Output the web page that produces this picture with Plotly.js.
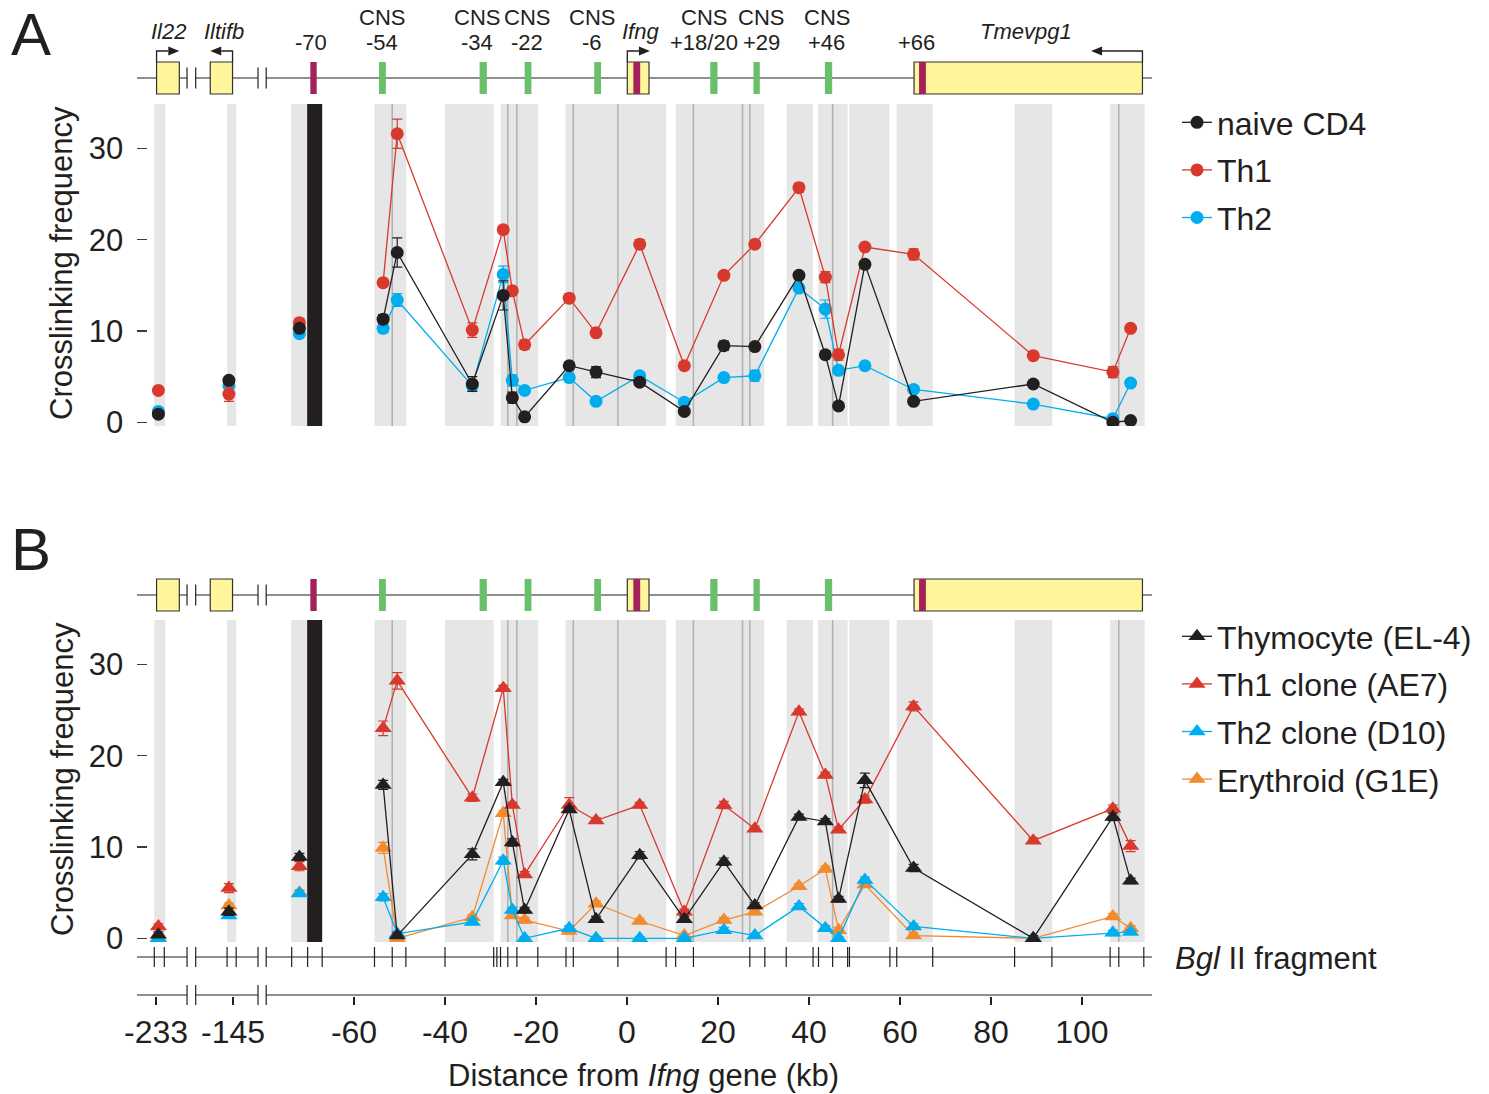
<!DOCTYPE html>
<html>
<head>
<meta charset="utf-8">
<script src="https://cdn.plot.ly/plotly-3.0.1.min.js"></script>
<style>html,body{margin:0;padding:0;background:#fff;}#chart{width:1489px;height:1094px;}</style>
</head>
<body>
<div id="chart"></div>
<script>
// ---------------- DATA ----------------
// Bgl II fragment centres (kb from Ifng); the first two lie beyond the axis breaks
const fragKb = [-232.5, -145.9, -72.0, -53.6, -50.5, -34.0, -27.2, -25.2, -22.5, -12.7, -6.8,
  2.8, 12.6, 21.3, 28.1, 37.8, 43.6, 46.5, 52.3, 63.0, 89.3, 106.8, 110.7];
const isolatedCount = 3; // first fragments are not joined by lines

// Panel A
const naiveCD4 = [0.9, 4.6, 10.3, 11.3, 18.6, 4.2, 13.9, 2.7, 0.6, 6.2, 5.5, 4.4, 1.2, 8.4, 8.3, 16.1, 7.4, 1.8, 17.3, 2.3, 4.2, 0.0, 0.2];
const naiveCD4Err = [0.3, 0.4, 0.3, 0.5, 1.6, 0.8, 1.6, 0.6, 0.2, 0.3, 0.6, 0.3, 0.3, 0.5, 0.3, 0.3, 0.4, 0.3, 0.4, 0.3, 0.3, 0.2, 0.2];
const th1 = [3.5, 3.1, 10.9, 15.3, 31.6, 10.1, 21.1, 14.4, 8.5, 13.6, 9.8, 19.5, 6.2, 16.1, 19.5, 25.7, 15.9, 7.4, 19.2, 18.4, 7.3, 5.5, 10.3];
const th1Err = [0.3, 0.8, 0.5, 0.3, 1.6, 0.8, 0.4, 0.3, 0.5, 0.5, 0.3, 0.5, 0.3, 0.3, 0.3, 0.5, 0.6, 0.6, 0.3, 0.6, 0.3, 0.6, 0.3];
const th2 = [1.2, 4.0, 9.7, 10.3, 13.4, 4.0, 16.2, 4.6, 3.5, 4.9, 2.3, 5.1, 2.2, 4.9, 5.1, 14.7, 12.4, 5.7, 6.2, 3.6, 2.0, 0.4, 4.3];
const th2Err = [0.4, 0.3, 0.3, 0.5, 0.7, 0.5, 0.9, 0.6, 0.3, 0.3, 0.3, 0.3, 0.3, 0.3, 0.6, 0.3, 1.0, 0.3, 0.3, 0.3, 0.3, 0.3, 0.3];

// Panel B
const el4 = [0.4, 2.9, 8.9, 16.8, 0.3, 9.2, 17.1, 10.5, 3.1, 14.1, 2.1, 9.1, 2.1, 8.4, 3.6, 13.3, 12.8, 4.3, 17.3, 7.7, 0.0, 13.3, 6.3];
const el4Err = [0.3, 0.4, 0.4, 0.5, 0.3, 0.6, 0.3, 0.4, 0.3, 0.3, 0.3, 0.4, 0.3, 0.4, 0.3, 0.3, 0.3, 0.3, 0.8, 0.4, 0.3, 0.4, 0.3];
const ae7 = [1.3, 5.5, 7.9, 23.0, 28.2, 15.4, 27.4, 14.6, 7.0, 14.6, 12.9, 14.6, 2.9, 14.6, 12.0, 24.8, 17.9, 11.9, 15.2, 25.4, 10.7, 14.2, 10.1];
const ae7Err = [0.3, 0.5, 0.5, 0.8, 0.9, 0.4, 0.3, 0.3, 0.3, 0.8, 0.3, 0.3, 0.3, 0.4, 0.3, 0.3, 0.3, 0.3, 0.4, 0.5, 0.3, 0.4, 0.6];
const d10 = [0.0, 2.5, 4.9, 4.5, 0.5, 1.8, 8.5, 3.1, 0.0, 1.1, 0.0, 0.0, 0.0, 0.9, 0.3, 3.5, 1.1, 0.0, 6.4, 1.3, 0.0, 0.6, 0.7];
const d10Err = [0.2, 0.3, 0.3, 0.4, 0.3, 0.3, 0.4, 0.3, 0.2, 0.3, 0.2, 0.2, 0.2, 0.3, 0.2, 0.3, 0.3, 0.2, 0.3, 0.3, 0.2, 0.3, 0.2];
const g1e = [0.1, 3.6, 5.0, 9.9, 0.0, 2.3, 13.7, 2.5, 2.0, 0.8, 3.8, 1.9, 0.3, 2.0, 2.9, 5.7, 7.6, 0.9, 5.9, 0.3, 0.0, 2.4, 1.1];
const g1eErr = [0.2, 0.3, 0.3, 0.6, 0.2, 0.3, 0.3, 0.3, 0.3, 0.3, 0.3, 0.3, 0.2, 0.3, 0.3, 0.3, 0.3, 0.3, 0.3, 0.3, 0.2, 0.3, 0.3];

// axis ticks
const xTickKb = [-233, -145, -60, -40, -20, 0, 20, 40, 60, 80, 100];
const xTickText = ['-233', '-145', '-60', '-40', '-20', '0', '20', '40', '60', '80', '100'];
const yTicks = [0, 10, 20, 30];

// shaded Bgl II fragments (kb)
const shadedBands = [[-233.4, -231.0], [-146.3, -144.3], [-73.8, -70.3], [-55.5, -48.5], [-40.0, -29.3],
  [-27.8, -19.5], [-13.5, 8.6], [10.7, 30.2], [35.1, 40.9], [42.0, 48.5], [48.9, 57.7], [59.3, 67.2],
  [85.2, 93.5], [106.2, 113.8]];
const innerBoundaries = [-51.6, -26.2, -24.2, -11.8, -2.0, 14.6, 25.4, 27.0, 45.2, 108.1];
const baitFragment = [-70.3, -67.0];
const bglSites = [-233.4, -231.2, -146.3, -144.3, -73.7, -70.2, -67.0, -55.5, -51.6, -48.6, -40.0, -29.3,
  -28.6, -27.8, -26.2, -24.2, -19.6, -13.4, -11.8, -2.0, 8.6, 10.7, 14.6, 27.0, 30.3, 35.0, 40.9, 42.1,
  45.2, 48.5, 48.9, 57.8, 59.3, 67.2, 85.2, 93.4, 106.2, 108.1, 113.6];

// gene map (kb)
const geneBoxes = [[-232.9, -227.9], [-150.0, -145.1], [0.07, 4.84], [63.1, 113.3]];
const magentaMarks = [[-69.6, -68.2], [1.4, 2.9], [64.2, 65.7]];
const cnsMarks = [[-54.5, -53.0], [-32.4, -30.8], [-22.5, -21.0], [-7.2, -5.7], [18.3, 19.9], [27.8, 29.2], [43.5, 45.1]];
const geneNames = ['Il22', 'Iltifb', 'Ifng', 'Tmevpg1'];
const geneNameKb = [-230.2, -147.0, 2.9, 87.6];
const elementLabels = ['-70', '-54', '-34', '-22', '-6', '+18/20', '+29', '+46', '+66'];
const elementLabelKb = [-69.5, -53.8, -32.9, -22.0, -7.6, 16.9, 29.5, 43.9, 63.7];
const elementIsCNS = [false, true, true, true, true, true, true, true, false];
// transcription arrows: [start (TSS), end]
const tssArrows = [[-232.9, -227.9], [-145.1, -150.0], [0.07, 5.05], [113.3, 102.0]];

// ---------------- HELPERS ----------------
// broken axis: far-left fragments are shifted next to the continuous region
function toAxis(kb) {
  if (kb < -190) return kb + 129.5;
  if (kb < -100) return kb + 58.4;
  return kb;
}
const H = 1094, W = 1489;
const py = p => 1 - p / H;          // pixel row -> paper y
const X0 = -107.7, X1 = 115.4;       // x-axis range (axis units)
const breaks = [[-96.7, -94.8], [-81.1, -79.3]];

const FONT = '"Liberation Sans", Arial, Helvetica, sans-serif';
const INK = '#231f20';
const C = {black: '#231f20', red: '#d8392c', blue: '#00aeef', orange: '#f28a30'};

function build(vals, errs) {
  const x = [], y = [], e = [];
  for (let i = 0; i < vals.length; i++) {
    x.push(toAxis(fragKb[i])); y.push(vals[i]); e.push(errs[i]);
    if (i < isolatedCount) { x.push(null); y.push(null); e.push(null); }
  }
  return {x, y, e};
}

function series(name, vals, errs, color, symbol, size, xa, ya, legend, z) {
  const d = build(vals, errs);
  return {
    type: 'scatter', mode: 'lines+markers', name, x: d.x, y: d.y,
    xaxis: xa, yaxis: ya, legend, legendgroup: name, zorder: z,
    connectgaps: false, cliponaxis: false,
    line: {color, width: 1.3},
    marker: {color, symbol, size, line: {width: 0}},
    error_y: {type: 'data', array: d.e, visible: true, color, thickness: 1.2, width: 5},
    hoverinfo: 'x+y'
  };
}

const traces = [
  series('naive CD4', naiveCD4, naiveCD4Err, C.black, 'circle', 13, 'x', 'y', 'legend', 3),
  series('Th1', th1, th1Err, C.red, 'circle', 13, 'x', 'y', 'legend', 2),
  series('Th2', th2, th2Err, C.blue, 'circle', 13, 'x', 'y', 'legend', 1),
  series('Thymocyte (EL-4)', el4, el4Err, C.black, 'triangle-up', 15, 'x2', 'y2', 'legend2', 4),
  series('Th1 clone (AE7)', ae7, ae7Err, C.red, 'triangle-up', 15, 'x2', 'y2', 'legend2', 3),
  series('Th2 clone (D10)', d10, d10Err, C.blue, 'triangle-up', 15, 'x2', 'y2', 'legend2', 2),
  series('Erythroid (G1E)', g1e, g1eErr, C.orange, 'triangle-up', 15, 'x2', 'y2', 'legend2', 1),
  // carrier for the bottom distance axis
  {type: 'scatter', mode: 'markers', x: [null], y: [null], xaxis: 'x3', yaxis: 'y3', showlegend: false, hoverinfo: 'skip'}
];

// ---------------- SHAPES ----------------
const shapes = [];
const panels = [{xa: 'x', ya: 'y'}, {xa: 'x2', ya: 'y2'}];
panels.forEach(p => {
  shadedBands.forEach(b => shapes.push({type: 'rect', xref: p.xa, yref: p.ya + ' domain', x0: toAxis(b[0]), x1: toAxis(b[1]), y0: 0, y1: 1,
    fillcolor: '#e6e6e6', line: {width: 0}, layer: 'below'}));
  innerBoundaries.forEach(v => shapes.push({type: 'line', xref: p.xa, yref: p.ya + ' domain', x0: toAxis(v), x1: toAxis(v), y0: 0, y1: 1,
    line: {color: '#b0b0b0', width: 1.5}, layer: 'below'}));
  shapes.push({type: 'rect', xref: p.xa, yref: p.ya + ' domain', x0: toAxis(baitFragment[0]), x1: toAxis(baitFragment[1]), y0: 0, y1: 1,
    fillcolor: INK, line: {width: 0}, layer: 'below'});
});

// horizontal rules with axis-break marks
function brokenRule(rowPx, half) {
  const segs = [[X0, breaks[0][0]], [breaks[0][1], breaks[1][0]], [breaks[1][1], X1]];
  segs.forEach(s => shapes.push({type: 'line', xref: 'x', yref: 'paper', x0: s[0], x1: s[1], y0: py(rowPx), y1: py(rowPx),
    line: {color: INK, width: 1.2}}));
  breaks.forEach(b => b.forEach(v => shapes.push({type: 'line', xref: 'x', yref: 'paper', x0: v, x1: v,
    y0: py(rowPx - half), y1: py(rowPx + half), line: {color: INK, width: 1.2}})));
}

// gene maps
const annotations = [];
function geneMap(linePx, withLabels) {
  brokenRule(linePx, 10.5);
  const top = linePx - 16, bot = linePx + 16;
  geneBoxes.forEach(b => shapes.push({type: 'rect', xref: 'x', yref: 'paper', x0: toAxis(b[0]), x1: toAxis(b[1]),
    y0: py(bot), y1: py(top), fillcolor: '#fff59a', line: {color: '#333333', width: 1.2}}));
  cnsMarks.forEach(b => shapes.push({type: 'rect', xref: 'x', yref: 'paper', x0: toAxis(b[0]), x1: toAxis(b[1]),
    y0: py(bot), y1: py(top), fillcolor: '#6abf6a', line: {width: 0}}));
  magentaMarks.forEach(b => shapes.push({type: 'rect', xref: 'x', yref: 'paper', x0: toAxis(b[0]), x1: toAxis(b[1]),
    y0: py(bot), y1: py(top), fillcolor: '#a4215b', line: {width: 0}}));
  if (!withLabels) return;
  const arrowPx = linePx - 27;
  tssArrows.forEach(a => {
    const xs = toAxis(a[0]), xe = toAxis(a[1]);
    const dir = Math.sign(xe - xs);
    const headLen = 11 / 4.55;
    shapes.push({type: 'path', xref: 'x', yref: 'paper',
      path: `M${xs},${py(top)} L${xs},${py(arrowPx)} L${xe - dir * headLen},${py(arrowPx)}`,
      line: {color: INK, width: 1.3}});
    shapes.push({type: 'path', xref: 'x', yref: 'paper',
      path: `M${xe},${py(arrowPx)} L${xe - dir * headLen},${py(arrowPx - 4.5)} L${xe - dir * headLen},${py(arrowPx + 4.5)} Z`,
      fillcolor: INK, line: {width: 0}});
  });
  geneNames.forEach((g, i) => annotations.push({xref: 'x', yref: 'paper', x: toAxis(geneNameKb[i]), y: py(31),
    text: '<i>' + g + '</i>', showarrow: false, font: {family: FONT, size: 22, color: INK}, xanchor: 'center', yanchor: 'middle'}));
  elementLabels.forEach((t, i) => {
    annotations.push({xref: 'x', yref: 'paper', x: elementLabelKb[i], y: py(43), text: t, showarrow: false,
      font: {family: FONT, size: 22, color: INK}, xanchor: 'center', yanchor: 'middle'});
    if (elementIsCNS[i]) annotations.push({xref: 'x', yref: 'paper', x: elementLabelKb[i], y: py(17), text: 'CNS', showarrow: false,
      font: {family: FONT, size: 22, color: INK}, xanchor: 'center', yanchor: 'middle'});
  });
}
geneMap(78, true);
geneMap(595, false);

// Bgl II fragment row
brokenRule(957, 10);
bglSites.forEach(v => shapes.push({type: 'line', xref: 'x', yref: 'paper', x0: toAxis(v), x1: toAxis(v),
  y0: py(967), y1: py(947), line: {color: INK, width: 1.2}}));
// distance axis rule
brokenRule(995, 10);

// ---------------- TEXT ----------------
function txt(xPx, yPx, text, size, extra) {
  return Object.assign({xref: 'paper', yref: 'paper', x: xPx / W, y: py(yPx), text, showarrow: false,
    xanchor: 'center', yanchor: 'middle', font: {family: FONT, size, color: INK}}, extra || {});
}
annotations.push(
  txt(31, 35, 'A', 60),
  txt(31, 549, 'B', 60),
  txt(62, 263, 'Crosslinking frequency', 31, {textangle: -90}),
  txt(62, 779, 'Crosslinking frequency', 31, {textangle: -90}),
  txt(643, 1075, 'Distance from <i>Ifng</i> gene (kb)', 31),
  txt(1173, 958, '<i>Bgl</i> II fragment', 31, {xanchor: 'left'})
);

// ---------------- LAYOUT ----------------
const xDom = [137 / W, 1152 / W];
const frameX = {domain: xDom, range: [X0, X1], showgrid: false, zeroline: false, showticklabels: false, ticks: '',
  showline: true, mirror: true, linecolor: '#3c3c3c', linewidth: 1.6, fixedrange: true};
const frameY = {range: [-0.4, 34.86], tickvals: yTicks, ticks: 'inside', ticklen: 10, tickwidth: 1.5, tickcolor: '#3c3c3c',
  showgrid: false, zeroline: false, showline: true, mirror: true, linecolor: '#3c3c3c', linewidth: 1.6,
  tickfont: {family: FONT, size: 31, color: INK}, ticklabelstandoff: 6, fixedrange: true};

const legendBase = {x: 1177 / W, xanchor: 'left', yanchor: 'top', bgcolor: 'rgba(0,0,0,0)',
  font: {family: FONT, size: 32, color: INK}, tracegroupgap: 3, itemwidth: 30};

const layout = {
  width: W, height: H, autosize: false,
  margin: {l: 0, r: 0, t: 0, b: 0, pad: 0},
  paper_bgcolor: '#ffffff', plot_bgcolor: 'rgba(0,0,0,0)',
  font: {family: FONT, color: INK},
  showlegend: true,
  xaxis: Object.assign({}, frameX, {anchor: 'y'}),
  yaxis: Object.assign({}, frameY, {domain: [py(426), py(104)], anchor: 'x'}),
  xaxis2: Object.assign({}, frameX, {anchor: 'y2'}),
  yaxis2: Object.assign({}, frameY, {domain: [py(942), py(620)], anchor: 'x2'}),
  xaxis3: {domain: xDom, range: [X0, X1], anchor: 'y3', side: 'bottom', showgrid: false, zeroline: false, showline: false,
    tickvals: xTickKb.map(toAxis), ticktext: xTickText, ticks: 'outside', ticklen: 8, tickwidth: 1.3, tickcolor: INK,
    tickfont: {family: FONT, size: 32, color: INK}, fixedrange: true},
  yaxis3: {domain: [py(995.5), py(995)], anchor: 'x3', visible: false, range: [0, 1], fixedrange: true},
  legend: Object.assign({}, legendBase, {y: py(95)}),
  legend2: Object.assign({}, legendBase, {y: py(609)}),
  shapes, annotations
};

Plotly.newPlot('chart', traces, layout, {displayModeBar: false, staticPlot: true});
</script>
</body>
</html>
